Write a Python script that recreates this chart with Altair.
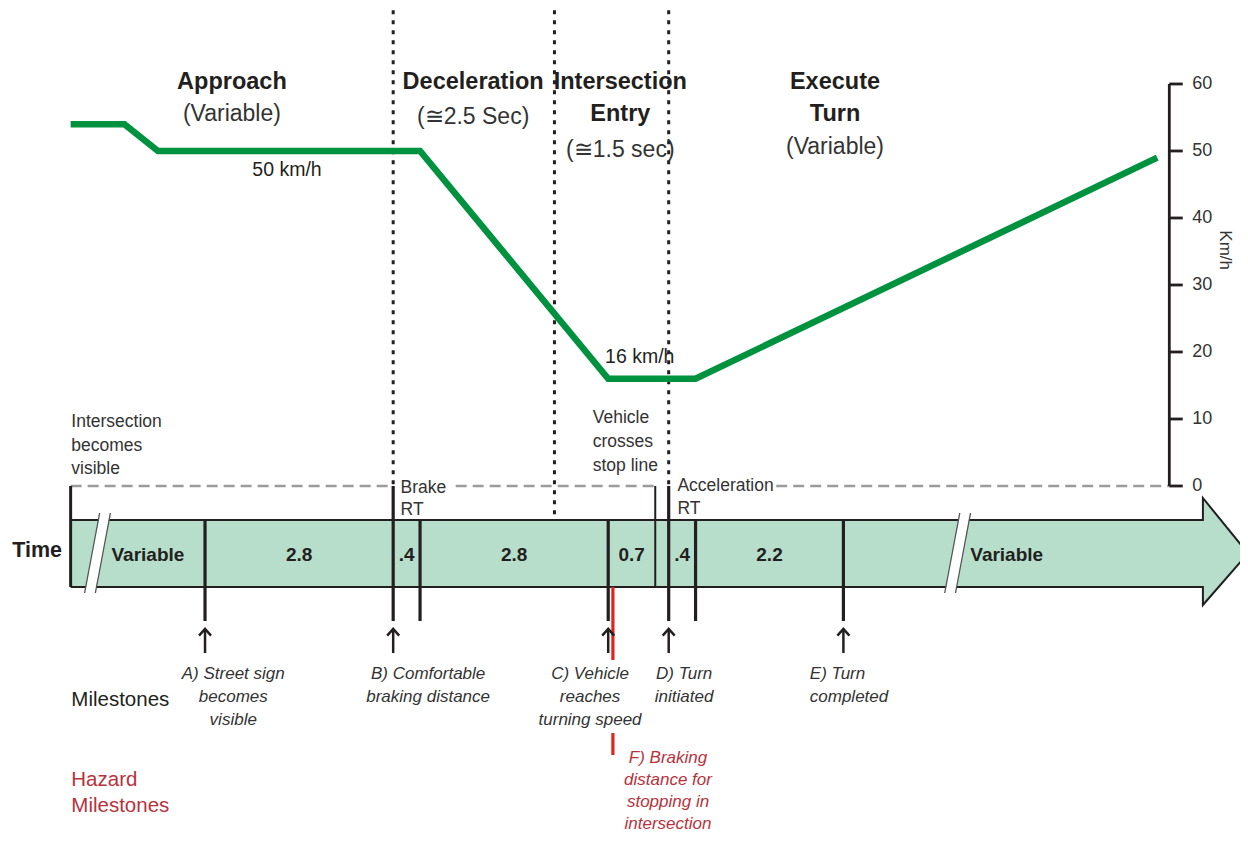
import altair as alt
import pandas as pd

# ---------------- style ----------------
FONT = "Liberation Sans, Arial, sans-serif"
INK = "#231F20"
SOFT_INK = "#333333"
GREEN = "#00923F"
BAR_FILL = "#B6DECA"
RED_LINE = "#E2231A"
RED_TEXT = "#B8323C"
GRAY = "#9B9B9B"

# ---------------- data ----------------
# speed profile: time (s, relative to milestone A) and speed (km/h)
speed_t = [-2.0, -1.2, -0.7, 3.2, 6.0, 7.3, 14.17]
speed_kmh = [54, 54, 50, 50, 16, 16, 49]

# timeline segments (durations shown inside the time arrow)
seg_labels = ["Variable", "2.8", ".4", "2.8", "0.7", ".4", "2.2", "Variable"]
seg_label_t = [-0.85, 1.4, 3.0, 4.6, 6.35, 7.1, 8.4, 11.93]

timeline_start = -2.0
timeline_end = 14.85
arrow_tip_t = 15.52
breaks_t = [-1.6, 11.2]

tick_t = [0.0, 2.8, 3.2, 6.0, 6.9, 7.3, 9.5]
tick_tall = [False, True, False, False, True, False, False]
stop_line_t = 6.7

# phase boundaries (dotted verticals)
phase_bounds_t = [2.8, 5.2, 6.9]
phase_to_bar = [False, True, False]

# milestones
milestone_t = [0.0, 2.8, 6.0, 6.9, 9.5]
milestone_text = [
    ["A) Street sign", "becomes", "visible"],
    ["B) Comfortable", "braking distance"],
    ["C) Vehicle", "reaches", "turning speed"],
    ["D) Turn", "initiated"],
    ["E) Turn", "completed"],
]
milestone_text_t = [0.42, 3.32, 5.73, 7.13, 9.0]
milestone_align = ["center", "center", "center", "center", "left"]

hazard_t = 6.07
hazard_text = ["F) Braking", "distance for", "stopping in", "intersection"]
hazard_text_t = 6.89

# speed axis
speed_ticks = [0, 10, 20, 30, 40, 50, 60]
speed_axis_t = 14.35

# dashed zero line pieces (interrupted by the RT labels)
zero_line_pieces = [(-2.0, 2.8), (3.73, 6.7), (8.5, 14.35)]

# ---------------- layout (chart units: x = s, y = km/h) ----------------
X_DOMAIN = [-2.932, 15.402]
Y_DOMAIN = [-51.79, 71.34]
TOP = 71.0
BAR_TOP, BAR_MID, BAR_BOT = -5.07, -10.07, -15.07
HEAD_TOP, HEAD_BOT = -1.79, -17.76
TICK_BOT = -20.15
ARROW_TIP, ARROW_BASE = -21.34, -24.93
RED1 = (-15.07, -25.97)
RED2 = (-36.87, -40.15)
SLASH_TOP, SLASH_BOT = -4.03, -15.97


def X(f="t"):
    return alt.X(f"{f}:Q", scale=alt.Scale(domain=X_DOMAIN, nice=False, zero=False), axis=None)


def Y(f="v"):
    return alt.Y(f"{f}:Q", scale=alt.Scale(domain=Y_DOMAIN, nice=False, zero=False), axis=None)


def vrules(rows, **kw):
    df = pd.DataFrame(rows, columns=["t", "v1", "v2"])
    return alt.Chart(df).mark_rule(**kw).encode(x=X(), y=Y("v1"), y2=alt.Y2("v2:Q"))


def hrules(rows, **kw):
    df = pd.DataFrame(rows, columns=["t1", "t2", "v"])
    return alt.Chart(df).mark_rule(**kw).encode(x=X("t1"), x2=alt.X2("t2:Q"), y=Y())


def texts(rows, **kw):
    df = pd.DataFrame(rows, columns=["t", "v", "text"])
    opts = dict(font=FONT, baseline="middle", align="center", color=INK)
    opts.update(kw)
    return alt.Chart(df).mark_text(**opts).encode(x=X(), y=Y(), text="text:N")


def lines(t, v0, items, step):
    return [(t, v0 - i * step, s) for i, s in enumerate(items)]


layers = []

# time arrow body
bar_df = pd.DataFrame({
    "t": [timeline_start, timeline_end, timeline_end + 0.0001, arrow_tip_t],
    "v": [BAR_TOP, BAR_TOP, HEAD_TOP, BAR_MID],
    "v2": [BAR_BOT, BAR_BOT, HEAD_BOT, BAR_MID],
})
layers.append(alt.Chart(bar_df).mark_area(color=BAR_FILL, opacity=1, interpolate="linear")
              .encode(x=X(), y=Y(), y2=alt.Y2("v2:Q")))

outline_df = pd.DataFrame({
    "t": [timeline_start, timeline_end, timeline_end, arrow_tip_t, timeline_end, timeline_end, timeline_start],
    "v": [BAR_TOP, BAR_TOP, HEAD_TOP, BAR_MID, HEAD_BOT, BAR_BOT, BAR_BOT],
    "o": list(range(7)),
})
layers.append(alt.Chart(outline_df).mark_line(color=INK, strokeWidth=2, strokeJoin="miter")
              .encode(x=X(), y=Y(), order="o:Q"))

# break marks (double slash)
slash_rows = []
for bi, b in enumerate(breaks_t):
    for kind, off in (("white", 0.0), ("edge", -0.08), ("edge", 0.08)):
        key = f"{bi}-{kind}-{off}"
        slash_rows.append((key, kind, b + off + 0.112, SLASH_TOP, 0))
        slash_rows.append((key, kind, b + off - 0.112, SLASH_BOT, 1))
slash_df = pd.DataFrame(slash_rows, columns=["id", "kind", "t", "v", "o"])
layers.append(alt.Chart(slash_df[slash_df.kind == "white"]).mark_line(color="white", strokeWidth=10)
              .encode(x=X(), y=Y(), detail="id:N", order="o:Q"))
layers.append(alt.Chart(slash_df[slash_df.kind == "edge"]).mark_line(color="#555555", strokeWidth=1.3)
              .encode(x=X(), y=Y(), detail="id:N", order="o:Q"))

# dashed zero line
layers.append(hrules([(a, b, 0.0) for a, b in zero_line_pieces],
                     color=GRAY, strokeWidth=2.5, strokeDash=[11, 6]))

# dotted phase boundaries
layers.append(vrules([(t, TOP, BAR_TOP if to_bar else 0.0) for t, to_bar in zip(phase_bounds_t, phase_to_bar)],
                     color=INK, strokeWidth=3, strokeDash=[4, 6]))

# timeline ticks
layers.append(vrules([(timeline_start, 0.0, BAR_BOT)], color=INK, strokeWidth=3))
layers.append(vrules([(t, 0.0 if tall else BAR_TOP, TICK_BOT) for t, tall in zip(tick_t, tick_tall)],
                     color=INK, strokeWidth=3.2))
layers.append(vrules([(stop_line_t, 0.0, BAR_BOT)], color=INK, strokeWidth=2))

# hazard red marker
layers.append(vrules([(hazard_t, RED1[0], RED1[1]), (hazard_t, RED2[0], RED2[1])],
                     color=RED_LINE, strokeWidth=3.2))

# milestone arrows
layers.append(vrules([(t, ARROW_TIP, ARROW_BASE) for t in milestone_t], color=INK, strokeWidth=2.5))
arrow_df = pd.DataFrame({"t": milestone_t, "v": [ARROW_TIP] * len(milestone_t)})
layers.append(alt.Chart(arrow_df).mark_point(shape="M-1,1.1L0,0L1,1.1", size=144, filled=False,
                                             strokeWidth=2.5, color=INK, opacity=1)
              .encode(x=X(), y=Y()))

# speed profile
speed_df = pd.DataFrame({"t": speed_t, "v": speed_kmh, "o": list(range(len(speed_t)))})
layers.append(alt.Chart(speed_df).mark_line(color=GREEN, strokeWidth=6.5, strokeJoin="miter")
              .encode(x=X(), y=Y(), order="o:Q"))

# speed axis (drawn on the speed scale)
layers.append(vrules([(speed_axis_t, speed_ticks[0], speed_ticks[-1])], color=INK, strokeWidth=2.8))
layers.append(hrules([(speed_axis_t, speed_axis_t + 0.2, s) for s in speed_ticks], color=INK, strokeWidth=2.8))
layers.append(texts([(speed_axis_t + 0.34, s, str(s)) for s in speed_ticks], fontSize=18, align="left",
                    color=SOFT_INK))
layers.append(texts([(15.18, 35.2, "Km/h")], fontSize=17, angle=90, color=SOFT_INK))

# phase headers
layers.append(texts([(0.40, 60.30, "Approach"), (3.99, 60.30, "Deceleration"),
                     (6.18, 60.30, "Intersection"), (6.18, 55.52, "Entry"),
                     (9.375, 60.30, "Execute"), (9.375, 55.52, "Turn")],
                    fontSize=23.5, fontWeight="bold"))
layers.append(texts([(0.40, 55.52, "(Variable)"), (3.99, 55.07, "(\u22452.5 Sec)"),
                     (6.18, 50.15, "(\u22451.5 sec)"), (9.375, 50.6, "(Variable)")],
                    fontSize=23, color=SOFT_INK))

# speed annotations
layers.append(texts([(1.22, 47.16, "50 km/h"), (6.47, 19.25, "16 km/h")], fontSize=19.5))

# notes
notes = (lines(-1.99, 9.55, ["Intersection", "becomes", "visible"], 3.51)
         + lines(5.77, 10.15, ["Vehicle", "crosses", "stop line"], 3.55)
         + lines(2.91, -0.30, ["Brake", "RT"], 3.3)
         + lines(7.03, 0.0, ["Acceleration", "RT"], 3.4))
layers.append(texts(notes, fontSize=17.5, align="left", color=SOFT_INK))

# labels inside time arrow
layers.append(texts([(t, -10.3, s) for t, s in zip(seg_label_t, seg_labels)], fontSize=19,
                    fontWeight="bold"))

# row titles
layers.append(texts([(-2.87, -9.7, "Time")], fontSize=21.5, fontWeight="bold", align="left"))
layers.append(texts([(-1.99, -31.94, "Milestones")], fontSize=20.5, align="left"))
layers.append(texts(lines(-1.99, -43.88, ["Hazard", "Milestones"], 3.9), fontSize=20.5, align="left",
                    color=RED_TEXT))

# milestone descriptions
for t, items, al in zip(milestone_text_t, milestone_text, milestone_align):
    layers.append(texts(lines(t, -28.06, items, 3.43), fontSize=17, fontStyle="italic",
                        align=al, color=SOFT_INK))
layers.append(texts(lines(hazard_text_t, -40.55, hazard_text, 3.28), fontSize=17, fontStyle="italic",
                    color=RED_TEXT))

chart = alt.layer(*layers).properties(
    width=1232, height=825, padding=0,
    autosize=alt.AutoSizeParams(type="none"),
).configure_view(stroke=None)

chart.save("out.html", embed_options={"renderer": "svg", "actions": False})
